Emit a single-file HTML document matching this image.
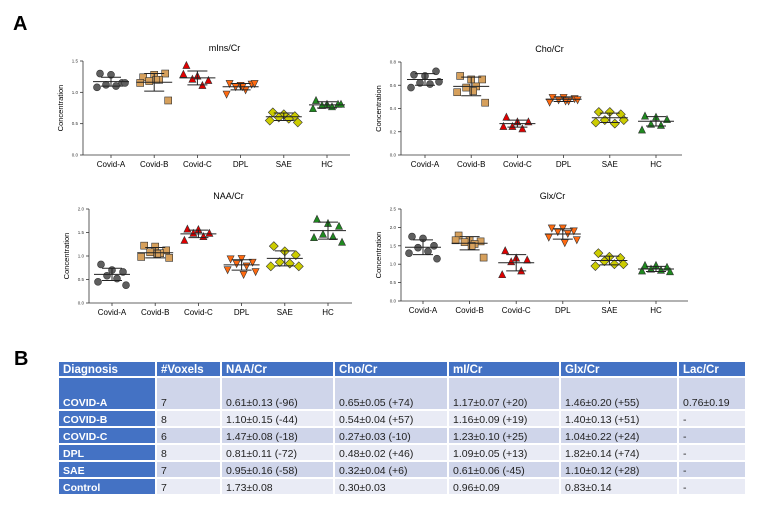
<!DOCTYPE html>
<html><head><meta charset="utf-8">
<style>
body{margin:0;background:#fff;width:770px;height:509px;overflow:hidden;font-family:"Liberation Sans",sans-serif;position:relative}
#panelA{position:absolute;left:0;top:0}
table{position:absolute;left:57px;top:360px;border-collapse:collapse;font-size:10.5px;color:#222;table-layout:fixed;width:688px}
td{padding:0 0 0 4px;height:15px;border:2px solid #fff;white-space:nowrap;vertical-align:bottom;overflow:hidden}
tr.h td{background:#4472c4;color:#fff;font-weight:bold;font-size:11.5px;height:14px}
td.d{background:#4472c4;color:#fff;font-weight:bold}
tr.o td:not(.d){background:#cfd5ea}
tr.e td:not(.d){background:#e9ebf5}
</style></head><body>
<svg id="panelA" width="770" height="350" xmlns="http://www.w3.org/2000/svg">
<text x="13" y="30" font-size="20" font-weight="bold" font-family="Liberation Sans">A</text>
</svg>
<div style="position:absolute;left:14px;top:348px;font-size:20px;font-weight:bold">B</div>
<table>
<colgroup><col style="width:98px"><col style="width:65px"><col style="width:113px"><col style="width:114px"><col style="width:112px"><col style="width:118px"><col style="width:68px"></colgroup>
<tr class="h"><td>Diagnosis</td><td>#Voxels</td><td>NAA/Cr</td><td>Cho/Cr</td><td>mI/Cr</td><td>Glx/Cr</td><td>Lac/Cr</td></tr>
<tr class="o"><td class="d" style="height:31px">COVID-A</td><td>7</td><td>0.61±0.13 (-96)</td><td>0.65±0.05 (+74)</td><td>1.17±0.07 (+20)</td><td>1.46±0.20 (+55)</td><td>0.76±0.19</td></tr>
<tr class="e"><td class="d">COVID-B</td><td>8</td><td>1.10±0.15 (-44)</td><td>0.54±0.04 (+57)</td><td>1.16±0.09 (+19)</td><td>1.40±0.13 (+51)</td><td>-</td></tr>
<tr class="o"><td class="d">COVID-C</td><td>6</td><td>1.47±0.08 (-18)</td><td>0.27±0.03 (-10)</td><td>1.23±0.10 (+25)</td><td>1.04±0.22 (+24)</td><td>-</td></tr>
<tr class="e"><td class="d">DPL</td><td>8</td><td>0.81±0.11 (-72)</td><td>0.48±0.02 (+46)</td><td>1.09±0.05 (+13)</td><td>1.82±0.14 (+74)</td><td>-</td></tr>
<tr class="o"><td class="d">SAE</td><td>7</td><td>0.95±0.16 (-58)</td><td>0.32±0.04 (+6)</td><td>0.61±0.06 (-45)</td><td>1.10±0.12 (+28)</td><td>-</td></tr>
<tr class="e"><td class="d">Control</td><td>7</td><td>1.73±0.08</td><td>0.30±0.03</td><td>0.96±0.09</td><td>0.83±0.14</td><td>-</td></tr>
</table>
<script>
const categories=["Covid-A","Covid-B","Covid-C","DPL","SAE","HC"];
const minsValues=[[1.30,1.28,1.15,1.12,1.10,1.08,1.15],[1.24,1.28,1.30,1.18,1.20,1.15,0.87,1.20],[1.42,1.25,1.18,1.20,1.10,1.28],[1.15,1.12,1.14,1.10,1.05,0.98,1.15,1.10],[0.68,0.65,0.62,0.60,0.58,0.55,0.52],[0.86,0.80,0.80,0.78,0.76,0.73,0.80]];
const minsMean=[1.17,1.16,1.23,1.09,0.61,0.80];
const minsSd=[0.07,0.14,0.11,0.05,0.06,0.05];
const choValues=[[0.69,0.68,0.72,0.62,0.61,0.58,0.63],[0.68,0.65,0.65,0.58,0.59,0.54,0.45,0.55],[0.32,0.28,0.28,0.24,0.22,0.24],[0.50,0.50,0.49,0.48,0.47,0.46,0.48,0.47],[0.37,0.37,0.35,0.30,0.27,0.28,0.30],[0.33,0.32,0.30,0.26,0.25,0.21]];
const choMean=[0.65,0.59,0.27,0.48,0.32,0.29];
const choSd=[0.05,0.08,0.03,0.02,0.04,0.04];
const naaValues=[[0.82,0.70,0.66,0.58,0.52,0.45,0.38],[1.22,1.20,1.12,1.08,1.06,0.98,0.96,1.05],[1.56,1.55,1.47,1.47,1.40,1.32],[0.95,0.96,0.88,0.85,0.80,0.72,0.68,0.62],[1.21,1.10,1.02,0.87,0.84,0.78,0.78],[1.77,1.68,1.62,1.45,1.40,1.38,1.28]];
const naaMean=[0.61,1.07,1.47,0.81,0.95,1.54];
const naaSd=[0.13,0.11,0.08,0.11,0.16,0.18];
const glxValues=[[1.75,1.70,1.50,1.45,1.35,1.30,1.15],[1.78,1.65,1.62,1.60,1.55,1.65,1.18,1.50],[1.35,1.15,1.10,1.05,0.80,0.70],[2.0,2.0,1.92,1.90,1.85,1.75,1.68,1.60],[1.30,1.20,1.17,1.08,1.00,0.95,1.00],[0.95,0.95,0.90,0.85,0.82,0.80,0.78]];
const glxMean=[1.46,1.57,1.04,1.82,1.10,0.87];
const glxSd=[0.20,0.18,0.22,0.14,0.12,0.07];
const minsTicks=["0.0","0.5","1.0","1.5"];
const choTicks=["0.0","0.2","0.4","0.6","0.8"];
const naaTicks=["0.0","0.5","1.0","1.5","2.0"];
const glxTicks=["0.0","0.5","1.0","1.5","2.0","2.5"];

const NS="http://www.w3.org/2000/svg";
const svg=document.getElementById('panelA');
const jitter=[-11,0,11,-5,5,-14,14,2];
const fills=["#5f5f5f","#d6a05c","#e00000","#ff6a10","#cccc00","#1f8a1f"];
function mk(tag,attrs,parent){const e=document.createElementNS(NS,tag);for(const k in attrs)e.setAttribute(k,attrs[k]);(parent||svg).appendChild(e);return e;}
function marker(g,ci,x,y){const r=3.5;const f=fills[ci];const s={fill:f,stroke:"#333","stroke-width":0.6};let e;
 if(ci==0)e=mk('circle',Object.assign({cx:x,cy:y,r:r},s),g);
 else if(ci==1)e=mk('rect',Object.assign({x:x-r,y:y-r,width:2*r,height:2*r},s),g);
 else if(ci==2||ci==5)e=mk('polygon',Object.assign({points:`${x},${y-r-1} ${x-r},${y+r-1} ${x+r},${y+r-1}`},s),g);
 else if(ci==3)e=mk('polygon',Object.assign({points:`${x},${y+r+1} ${x-r},${y-r+1} ${x+r},${y-r+1}`},s),g);
 else e=mk('polygon',Object.assign({points:`${x},${y-r-1} ${x+r+1},${y} ${x},${y+r+1} ${x-r-1},${y}`},s),g);
 
 }
function chart(name,title,ax,top,bot,right,x0,dx,ticks,vals,mean,sd){
 const g=mk('g',{});
 
 
 const ymax=parseFloat(ticks[ticks.length-1]);
 const ys=v=>bot-(v/ymax)*(bot-top);
 const xs=i=>x0+i*dx;
 const t=mk('text',{x:(ax+right)/2+8,y:top-10,'font-size':9,'text-anchor':'middle','font-family':'Liberation Sans'},g);t.textContent=title;
 
 mk('line',{x1:ax,y1:top,x2:ax,y2:bot,stroke:"#333","stroke-width":0.8},g);
 mk('line',{x1:ax,y1:bot,x2:right,y2:bot,stroke:"#333","stroke-width":0.8},g);
 ticks.forEach(tk=>{const y=ys(parseFloat(tk));mk('line',{x1:ax-3,y1:y,x2:ax,y2:y,stroke:"#333","stroke-width":0.8},g);
  const tt=mk('text',{x:ax-5,y:y+1.5,'font-size':4.5,'text-anchor':'end','font-family':'Liberation Sans',fill:'#333'},g);tt.textContent=tk;
  });
 const yl=mk('text',{x:0,y:0,'font-size':7.5,'text-anchor':'middle','font-family':'Liberation Sans',transform:`translate(${ax-20},${(top+bot)/2}) rotate(-90)`},g);yl.textContent="Concentration";
 
 categories.forEach((c,i)=>{const x=xs(i);
  mk('line',{x1:x,y1:bot,x2:x,y2:bot+3,stroke:"#333","stroke-width":0.8},g);
  const ct=mk('text',{x:x,y:bot+12,'font-size':8,'text-anchor':'middle','font-family':'Liberation Sans'},g);ct.textContent=c;
  
  vals[i].forEach((v,j)=>marker(g,i,x+jitter[j%jitter.length],ys(v)));
  const m=ys(mean[i]),hi=ys(mean[i]+sd[i]),lo=ys(mean[i]-sd[i]);
  mk('line',{x1:x-18,y1:m,x2:x+18,y2:m,stroke:"#222","stroke-width":1},g);
  mk('line',{x1:x,y1:hi,x2:x,y2:lo,stroke:"#222","stroke-width":1},g);
  mk('line',{x1:x-10,y1:hi,x2:x+10,y2:hi,stroke:"#222","stroke-width":1},g);
  mk('line',{x1:x-10,y1:lo,x2:x+10,y2:lo,stroke:"#222","stroke-width":1},g);
 });
}
chart('mins','mIns/Cr',83,61,155,350,111,43.2,minsTicks,minsValues,minsMean,minsSd);
chart('cho','Cho/Cr',401,62,155,682,425,46.2,choTicks,choValues,choMean,choSd);
chart('naa','NAA/Cr',89,209,303,352,112,43.2,naaTicks,naaValues,naaMean,naaSd);
chart('glx','Glx/Cr',401,209,301,688,423,46.6,glxTicks,glxValues,glxMean,glxSd);
</script>
</body></html>
